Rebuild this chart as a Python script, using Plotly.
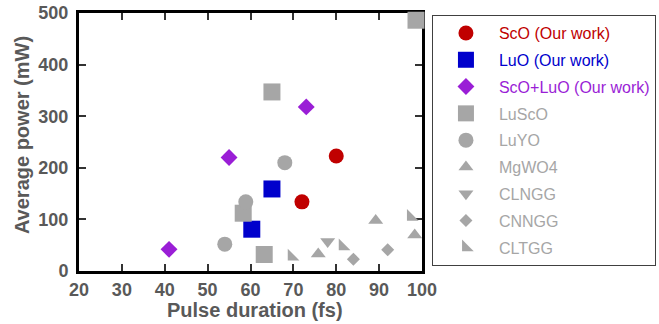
import plotly.graph_objects as go

# ---- data ----
series_names = ["ScO (Our work)", "LuO (Our work)", "ScO+LuO (Our work)",
                "LuScO", "LuYO", "MgWO4", "CLNGG", "CNNGG", "CLTGG"]

sco_x = [72, 80]
sco_y = [134, 223]
luo_x = [60.3, 65]
luo_y = [81, 159]
scoluo_x = [41, 55, 73]
scoluo_y = [42, 220, 318]
lusco_x = [58.3, 63.2, 65, 98.6]
lusco_y = [112, 32, 347, 486]
luyo_x = [54, 58.9, 68]
luyo_y = [52, 134, 210]
mgwo4_x = [75.8, 89.2, 98.3]
mgwo4_y = [33, 98, 70]
clngg_x = [78]
clngg_y = [57]
cnngg_x = [84, 92]
cnngg_y = [23, 41]
cltgg_x = [69.6, 81.5, 97.4]
cltgg_y = [28, 48, 105]

x_ticks = [20, 30, 40, 50, 60, 70, 80, 90, 100]
y_ticks = [0, 100, 200, 300, 400, 500]
x_title = "Pulse duration (fs)"
y_title = "Average power (mW)"

RED = "#c00000"
BLUE = "#0000cc"
PURPLE = "#9a1ed6"
GRAY = "#a6a6a6"

specs = [
    (sco_x, sco_y, "circle", 15, RED),
    (luo_x, luo_y, "square", 17, BLUE),
    (scoluo_x, scoluo_y, "diamond", 13, PURPLE),
    (lusco_x, lusco_y, "square", 17, GRAY),
    (luyo_x, luyo_y, "circle", 15, GRAY),
    (mgwo4_x, mgwo4_y, "triangle-up", 13, GRAY),
    (clngg_x, clngg_y, "triangle-down", 13, GRAY),
    (cnngg_x, cnngg_y, "diamond", 10, GRAY),
    (cltgg_x, cltgg_y, "triangle-sw", 13, GRAY),
]

fig = go.Figure()
for i, (name, (xs, ys, sym, sz, col)) in enumerate(zip(series_names, specs)):
    fig.add_trace(go.Scatter(
        x=xs, y=ys, mode="markers",
        name=f'<span style="color:{col}">{name}</span>',
        legendgroup=f"g{i}",
        marker=dict(symbol=sym, size=sz, color=col, line=dict(width=0)),
        cliponaxis=False,
    ))

TXT = "#595959"
axis_common = dict(
    showline=True, linecolor="black", linewidth=3, mirror="ticks",
    ticks="inside", ticklen=7, tickwidth=2, tickcolor="#333333",
    showgrid=False, zeroline=False, layer="below traces", automargin=False,
    tickfont=dict(family="Liberation Sans", size=18, color=TXT, weight="bold"),
)

title_font = dict(family="Liberation Sans", size=20, color=TXT, weight="bold")

fig.update_layout(
    width=659, height=324,
    margin=dict(l=79, r=237, t=13, b=53, autoexpand=False),
    paper_bgcolor="white", plot_bgcolor="white",
    xaxis=dict(range=[20, 100], tickvals=x_ticks, **axis_common),
    yaxis=dict(range=[0, 500], tickvals=y_ticks, ticklabelstandoff=4, **axis_common),
    legend=dict(
        x=1.029, y=0.992, xanchor="left", yanchor="top",
        bgcolor="white", bordercolor="#404040", borderwidth=1,
        font=dict(family="Liberation Sans", size=16, color=GRAY),
        tracegroupgap=3, itemwidth=56,
    ),
    showlegend=True,
    annotations=[
        dict(text=x_title, xref="paper", yref="paper", x=0.513, y=-0.151,
             xanchor="center", yanchor="middle", showarrow=False, font=title_font),
        dict(text=y_title, xref="paper", yref="paper", x=-0.166, y=0.527,
             xanchor="center", yanchor="middle", showarrow=False, textangle=-90,
             font=title_font),
    ],
)

fig.write_html("out.html", config={"displayModeBar": False},
               post_script="document.body.style.margin='0';")
